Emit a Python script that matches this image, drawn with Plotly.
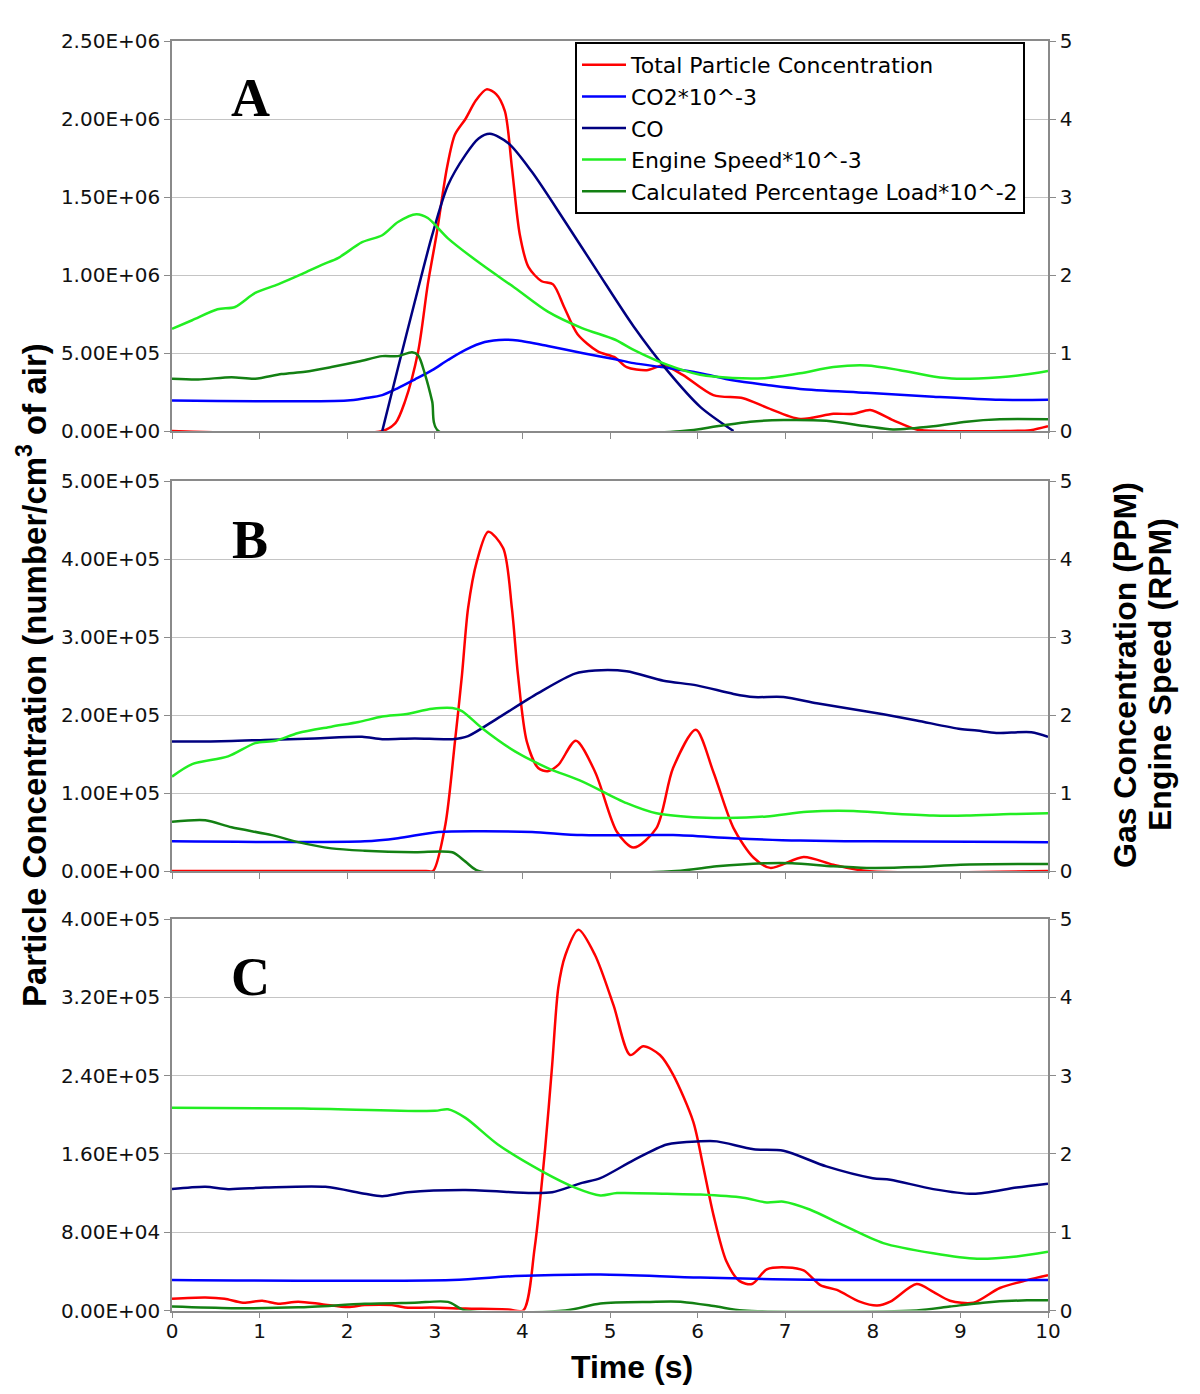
import plotly.graph_objects as go

# ---------------- data ----------------
names = ["Total Particle Concentration", "CO2*10^-3", "CO",
         "Engine Speed*10^-3", "Calculated Percentage Load*10^-2"]
colors = ["#ff0000", "#0000ff", "#000080", "#22ee22", "#138013"]

time_ticks = [0, 1, 2, 3, 4, 5, 6, 7, 8, 9, 10]
time_ticktext = ["0", "1", "2", "3", "4", "5", "6", "7", "8", "9", "10"]
right_ticks = [0, 1, 2, 3, 4, 5]
right_ticktext = ["0", "1", "2", "3", "4", "5"]

A_left_ticks = [0, 5e5, 1e6, 1.5e6, 2e6, 2.5e6]
A_left_text = ["0.00E+00", "5.00E+05", "1.00E+06", "1.50E+06", "2.00E+06", "2.50E+06"]
B_left_ticks = [0, 1e5, 2e5, 3e5, 4e5, 5e5]
B_left_text = ["0.00E+00", "1.00E+05", "2.00E+05", "3.00E+05", "4.00E+05", "5.00E+05"]
C_left_ticks = [0, 8e4, 1.6e5, 2.4e5, 3.2e5, 4e5]
C_left_text = ["0.00E+00", "8.00E+04", "1.60E+05", "2.40E+05", "3.20E+05", "4.00E+05"]

# ---- Panel A ----
A_red_t = [0, 2.4, 2.55, 2.66, 2.81, 2.92, 3.02, 3.14, 3.23, 3.35, 3.47, 3.59, 3.7, 3.8,
           3.88, 3.97, 4.07, 4.22, 4.35, 4.48, 4.63, 4.86, 5.06, 5.19, 5.42, 5.61, 5.83,
           6.18, 6.52, 6.79, 7.17, 7.55, 7.78, 7.97, 8.23, 8.5, 8.8, 9.5, 9.8, 10]
A_red_v = [0, 0, 0.05e6, 0.19e6, 0.51e6, 0.94e6, 1.26e6, 1.69e6, 1.90e6, 2.0e6, 2.12e6,
           2.19e6, 2.16e6, 2.05e6, 1.69e6, 1.26e6, 1.05e6, 0.96e6, 0.94e6, 0.79e6, 0.62e6,
           0.51e6, 0.47e6, 0.41e6, 0.39e6, 0.42e6, 0.36e6, 0.23e6, 0.21e6, 0.15e6, 0.077e6,
           0.11e6, 0.11e6, 0.135e6, 0.07e6, 0.01e6, 0, 0, 0.005e6, 0.03e6]
A_co2_t = [0, 2.0, 2.2, 2.4, 2.58, 2.77, 2.97, 3.15, 3.35, 3.57, 3.8, 3.95, 4.29, 4.68,
           5.06, 5.27, 5.65, 6.03, 6.4, 6.79, 7.17, 7.93, 8.69, 9.45, 10]
A_co2_v = [0.39, 0.39, 0.42, 0.46, 0.55, 0.66, 0.78, 0.91, 1.04, 1.14, 1.17, 1.16, 1.09,
           1.0, 0.92, 0.87, 0.81, 0.74, 0.65, 0.59, 0.54, 0.49, 0.44, 0.40, 0.40]
A_co_t = [2.4, 2.58, 2.77, 2.97, 3.15, 3.35, 3.5, 3.63, 3.84, 4.11, 4.49, 4.86, 5.27,
          5.65, 6.03, 6.41]
A_co_v = [0, 0.81, 1.65, 2.51, 3.15, 3.54, 3.75, 3.81, 3.69, 3.32, 2.68, 2.04, 1.34,
          0.78, 0.31, 0]
A_eng_t = [0, 0.23, 0.52, 0.72, 0.95, 1.21, 1.48, 1.71, 1.9, 2.17, 2.4, 2.58, 2.79, 2.92,
           3.15, 3.54, 3.92, 4.29, 4.68, 5.06, 5.27, 5.65, 6.03, 6.4, 6.79, 7.17, 7.55,
           7.93, 8.31, 8.69, 8.96, 9.45, 9.72, 10]
A_eng_v = [1.31, 1.42, 1.56, 1.59, 1.77, 1.88, 2.01, 2.13, 2.22, 2.42, 2.51, 2.68, 2.78,
           2.73, 2.47, 2.13, 1.83, 1.53, 1.32, 1.17, 1.04, 0.85, 0.72, 0.68, 0.68, 0.74,
           0.82, 0.84, 0.78, 0.70, 0.67, 0.69, 0.72, 0.77]
A_load_t = [0, 0.3, 0.68, 0.95, 1.25, 1.52, 1.82, 2.13, 2.4, 2.58, 2.74, 2.81, 2.89, 2.97,
            3.04, 5.83, 6.22, 6.6, 6.98, 7.47, 7.93, 8.23, 8.69, 9.07, 9.45, 10]
A_load_v = [0.67, 0.66, 0.69, 0.67, 0.73, 0.76, 0.82, 0.89, 0.96, 0.96, 1.01, 0.97, 0.72,
            0.38, 0, 0, 0.06, 0.12, 0.14, 0.13, 0.06, 0.02, 0.06, 0.12, 0.15, 0.15]

# ---- Panel B ----
B_red_t = [0, 2.9, 2.98, 3.12, 3.23, 3.31, 3.38, 3.48, 3.61, 3.78, 3.88, 3.95, 4.05,
           4.18, 4.29, 4.41, 4.61, 4.83, 5.08, 5.27, 5.53, 5.72, 5.98, 6.18, 6.41, 6.64,
           6.83, 7.21, 7.55, 7.93, 10]
B_red_v = [0, 0, 0, 0.59e5, 1.66e5, 2.51e5, 3.37e5, 3.97e5, 4.35e5, 4.14e5, 3.37e5,
           2.51e5, 1.66e5, 1.32e5, 1.28e5, 1.36e5, 1.67e5, 1.27e5, 0.50e5, 0.30e5, 0.55e5,
           1.32e5, 1.81e5, 1.27e5, 0.55e5, 0.17e5, 0.04e5, 0.18e5, 0.08e5, 0, 0]
B_co2_t = [0, 2.2, 2.58, 3.04, 3.54, 4.11, 4.68, 5.72, 6.41, 7.17, 8.0, 10]
B_co2_v = [0.38, 0.38, 0.42, 0.50, 0.51, 0.50, 0.46, 0.46, 0.42, 0.39, 0.38, 0.37]
B_co_t = [0, 0.44, 1.06, 1.63, 2.17, 2.4, 2.77, 3.2, 3.38, 3.72, 4.18, 4.6, 4.83, 5.19,
          5.61, 5.99, 6.41, 6.64, 6.98, 7.36, 7.74, 8.12, 8.5, 9.0, 9.19, 9.41, 9.81, 10]
B_co_v = [1.66, 1.66, 1.68, 1.70, 1.72, 1.69, 1.70, 1.69, 1.73, 1.96, 2.28, 2.53, 2.57,
          2.56, 2.44, 2.38, 2.27, 2.23, 2.23, 2.15, 2.08, 2.01, 1.93, 1.82, 1.80, 1.77,
          1.78, 1.72]
B_eng_t = [0, 0.23, 0.64, 0.95, 1.18, 1.44, 1.82, 2.13, 2.4, 2.66, 2.97, 3.2, 3.31, 3.54,
           3.92, 4.29, 4.68, 5.19, 5.53, 5.95, 6.33, 6.79, 7.25, 7.78, 8.16, 8.69, 9.07,
           9.57, 10]
B_eng_v = [1.21, 1.37, 1.47, 1.64, 1.67, 1.77, 1.85, 1.91, 1.98, 2.01, 2.08, 2.09, 2.05,
           1.83, 1.53, 1.32, 1.15, 0.87, 0.74, 0.69, 0.68, 0.70, 0.76, 0.77, 0.74, 0.71,
           0.71, 0.73, 0.74]
B_load_t = [0, 0.38, 0.68, 1.14, 1.44, 1.82, 2.2, 2.77, 3.2, 3.35, 3.5, 5.75, 6.22, 6.79,
            7.08, 7.55, 7.93, 8.5, 9.0, 10]
B_load_v = [0.63, 0.65, 0.56, 0.46, 0.37, 0.29, 0.26, 0.24, 0.24, 0.12, 0, 0, 0.06, 0.10,
            0.10, 0.06, 0.04, 0.05, 0.08, 0.09]

# ---- Panel C ----
C_red_t = [0, 0.38, 0.6, 0.81, 1.03, 1.21, 1.44, 1.71, 2.01, 2.2, 2.51, 2.66, 2.97, 3.35,
           3.84, 4.01, 4.14, 4.26, 4.34, 4.41, 4.49, 4.64, 4.83, 5.04, 5.23, 5.38, 5.57,
           5.72, 5.95, 6.06, 6.18, 6.33, 6.48, 6.62, 6.79, 7.02, 7.21, 7.4, 7.59, 7.85,
           8.05, 8.2, 8.5, 8.69, 8.88, 9.15, 9.45, 9.76, 10]
C_red_v = [1.2e4, 1.33e4, 1.2e4, 0.8e4, 1.0e4, 0.7e4, 0.9e4, 0.65e4, 0.35e4, 0.55e4,
           0.55e4, 0.3e4, 0.3e4, 0.2e4, 0.1e4, 0, 6.4e4, 16.6e4, 25.1e4, 33e4, 36.3e4,
           38.9e4, 36.3e4, 31.2e4, 26.1e4, 27e4, 26.1e4, 24.1e4, 19.3e4, 14.9e4, 9.8e4,
           5.0e4, 3.0e4, 2.7e4, 4.2e4, 4.4e4, 4.1e4, 2.6e4, 2.1e4, 0.9e4, 0.5e4, 0.9e4,
           2.7e4, 1.9e4, 1.0e4, 0.8e4, 2.3e4, 3.1e4, 3.6e4]
C_co2_t = [0, 3.2, 3.92, 4.89, 6.03, 7.5, 10]
C_co2_v = [0.39, 0.39, 0.44, 0.46, 0.42, 0.39, 0.39]
C_co_t = [0, 0.38, 0.64, 1.06, 1.75, 2.2, 2.4, 2.69, 3.35, 4.11, 4.34, 4.68, 4.89, 5.27,
          5.65, 6.03, 6.22, 6.64, 6.98, 7.47, 8.0, 8.2, 8.69, 9.15, 9.64, 10]
C_co_v = [1.55, 1.58, 1.55, 1.57, 1.58, 1.49, 1.46, 1.51, 1.54, 1.50, 1.51, 1.63, 1.69,
          1.92, 2.12, 2.16, 2.16, 2.06, 2.04, 1.84, 1.69, 1.67, 1.55, 1.49, 1.57, 1.62]
C_eng_t = [0, 1.5, 3.0, 3.15, 3.35, 3.72, 4.22, 4.6, 4.89, 5.08, 5.65, 6.03, 6.52, 6.79,
           6.98, 7.28, 7.66, 8.12, 8.69, 9.19, 9.64, 10]
C_eng_v = [2.59, 2.58, 2.55, 2.57, 2.46, 2.12, 1.78, 1.57, 1.47, 1.50, 1.49, 1.48, 1.44,
           1.38, 1.39, 1.29, 1.09, 0.86, 0.73, 0.66, 0.69, 0.75]
C_load_t = [0, 0.68, 1.44, 2.2, 2.77, 3.15, 3.35, 4.49, 4.89, 5.46, 5.83, 6.22, 6.52,
            8.5, 8.88, 9.26, 9.76, 10]
C_load_v = [0.05, 0.03, 0.04, 0.085, 0.10, 0.11, 0, 0, 0.09, 0.11, 0.11, 0.05, 0, 0,
            0.05, 0.10, 0.13, 0.13]

panels = [
    dict(label="A", xa="x", yl="y", yr="y2",
         red=(A_red_t, A_red_v), gas=[(A_co2_t, A_co2_v), (A_co_t, A_co_v),
                                       (A_eng_t, A_eng_v), (A_load_t, A_load_v)]),
    dict(label="B", xa="x2", yl="y3", yr="y4",
         red=(B_red_t, B_red_v), gas=[(B_co2_t, B_co2_v), (B_co_t, B_co_v),
                                       (B_eng_t, B_eng_v), (B_load_t, B_load_v)]),
    dict(label="C", xa="x3", yl="y5", yr="y6",
         red=(C_red_t, C_red_v), gas=[(C_co2_t, C_co2_v), (C_co_t, C_co_v),
                                       (C_eng_t, C_eng_v), (C_load_t, C_load_v)]),
]

# ---------------- figure ----------------
W, H = 1200, 1394
OFF = 8  # page body margin offset

def xp(px):
    return (px - OFF) / W

def yp(py):
    return 1 - (py - OFF) / H

fig = go.Figure()

for pi, p in enumerate(panels):
    t, v = p["red"]
    fig.add_trace(go.Scatter(x=t, y=v, xaxis=p["xa"], yaxis=p["yl"], mode="lines",
                             name=names[0], legendrank=1, showlegend=(pi == 0),
                             line=dict(color=colors[0], width=2.5, shape="spline", smoothing=0.8)))
    for k, (gt, gv) in enumerate(p["gas"]):
        fig.add_trace(go.Scatter(x=gt, y=gv, xaxis=p["xa"], yaxis=p["yr"], mode="lines",
                                 name=names[k + 1], legendrank=k + 2, showlegend=(pi == 0),
                                 line=dict(color=colors[k + 1], width=2.5, shape="spline",
                                           smoothing=0.8)))

doms = [(41, 431), (481, 871), (919, 1310.5)]

tickfont = dict(family="DejaVu Sans", size=20, color="#111")
axcol = "#8a8a8a"
gridcol = "#c4c4c4"
left_ticks = [(A_left_ticks, A_left_text, 2.5e6), (B_left_ticks, B_left_text, 5e5),
              (C_left_ticks, C_left_text, 4e5)]

layout = {}
for i in range(3):
    xn = "xaxis" if i == 0 else f"xaxis{i + 1}"
    yl = "yaxis" if i == 0 else f"yaxis{2 * i + 1}"
    yr = f"yaxis{2 * i + 2}"
    yl_id = "y" if i == 0 else f"y{2 * i + 1}"
    x_id = "x" if i == 0 else f"x{i + 1}"
    tv, tt, top = left_ticks[i]
    top_px, bot_px = doms[i]
    layout[xn] = dict(domain=[xp(172), xp(1048)], anchor=yl_id, range=[0, 10],
                      tickvals=time_ticks, ticktext=time_ticktext, showticklabels=(i == 2),
                      ticks="outside", ticklen=6, tickcolor=axcol, showline=True,
                      linecolor=axcol, linewidth=1.5, mirror=True, showgrid=False,
                      zeroline=False, tickfont=tickfont, automargin=False,
                      ticklabelstandoff=-4)
    layout[yl] = dict(domain=[yp(bot_px), yp(top_px)], anchor=x_id, range=[0, top],
                      tickvals=tv, ticktext=tt, ticks="outside", ticklen=6, tickcolor=axcol,
                      showline=True, linecolor=axcol, linewidth=1.5, showgrid=True,
                      gridcolor=gridcol, gridwidth=1.2, zeroline=False, tickfont=tickfont,
                      automargin=False)
    layout[yr] = dict(overlaying=yl_id, anchor=x_id, side="right", range=[0, 5],
                      tickvals=right_ticks, ticktext=right_ticktext, ticks="outside",
                      ticklen=6, tickcolor=axcol, showline=True, linecolor=axcol,
                      linewidth=1.5, showgrid=False, zeroline=False, tickfont=tickfont,
                      automargin=False)

fig.update_layout(**layout)

annotations = []
label_y = [98, 540, 977]
for i, p in enumerate(panels):
    annotations.append(dict(text=f"<b>{p['label']}</b>", x=xp(250), y=yp(label_y[i]),
                            xref="paper", yref="paper", showarrow=False,
                            xanchor="center", yanchor="middle",
                            font=dict(family="Liberation Serif, Times New Roman", size=54,
                                      color="#000")))
annotations.append(dict(text="<b>Particle Concentration (number/cm<sup>3</sup> of air)</b>",
                        x=xp(32), y=yp(675), xref="paper", yref="paper", showarrow=False,
                        textangle=-90, xanchor="center", yanchor="middle",
                        font=dict(family="Liberation Sans, Arial", size=33, color="#000")))
annotations.append(dict(text="<b>Gas Concentration (PPM)</b>",
                        x=xp(1125), y=yp(675), xref="paper", yref="paper", showarrow=False,
                        textangle=-90, xanchor="center", yanchor="middle",
                        font=dict(family="Liberation Sans, Arial", size=32, color="#000")))
annotations.append(dict(text="<b>Engine Speed (RPM)</b>",
                        x=xp(1160), y=yp(675), xref="paper", yref="paper", showarrow=False,
                        textangle=-90, xanchor="center", yanchor="middle",
                        font=dict(family="Liberation Sans, Arial", size=32, color="#000")))
annotations.append(dict(text="<b>Time (s)</b>", x=xp(632), y=yp(1367), xref="paper",
                        yref="paper", showarrow=False, xanchor="center", yanchor="middle",
                        font=dict(family="Liberation Sans, Arial", size=32, color="#000")))

fig.update_layout(
    width=W, height=H, margin=dict(l=0, r=0, t=0, b=0, autoexpand=False),
    paper_bgcolor="white", plot_bgcolor="white",
    annotations=annotations,
    legend=dict(x=xp(575), y=yp(42), xanchor="left", yanchor="top",
                bgcolor="white", bordercolor="#000", borderwidth=2,
                font=dict(family="DejaVu Sans", size=22, color="#000"),
                traceorder="normal", itemwidth=44, tracegroupgap=0),
)

fig.write_html("out.html")
